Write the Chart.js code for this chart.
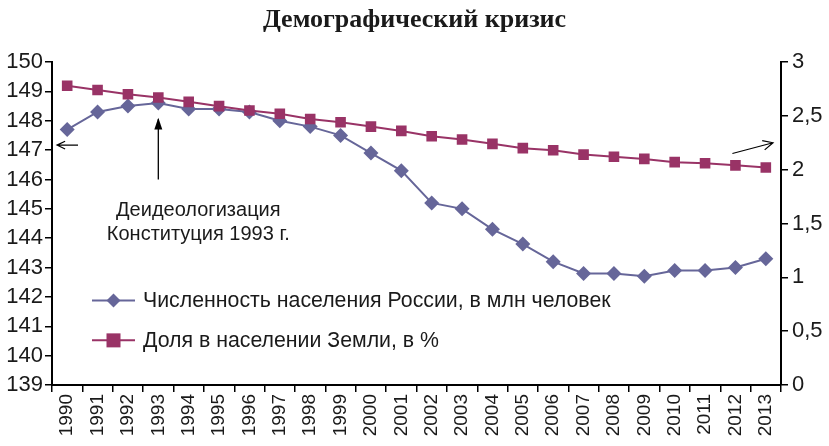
<!DOCTYPE html>
<html lang="ru">
<head>
    <meta charset="UTF-8">
    <script src="https://cdn.jsdelivr.net/npm/chart.js"></script>
    <title>Демографический кризис</title>
    <style>
        html, body { margin: 0; padding: 0; background: #fff; }
        #wrap { width: 829px; height: 446px; position: relative; }
    </style>
</head>
<body>
<div id="wrap"><canvas id="myChart" width="829" height="446"></canvas></div>
<script>
// данные
var years = ['1990', '1991', '1992', '1993', '1994', '1995', '1996', '1997', '1998', '1999', '2000', '2001',
    '2002', '2003', '2004', '2005', '2006', '2007', '2008', '2009', '2010', '2011', '2012', '2013'];
var population = [147.7, 148.3, 148.5, 148.6, 148.4, 148.4, 148.3, 148.0, 147.8, 147.5, 146.9, 146.3,
    145.2, 145.0, 144.3, 143.8, 143.2, 142.8, 142.8, 142.7, 142.9, 142.9, 143.0, 143.3];
var worldShare = [2.78, 2.74, 2.70, 2.67, 2.63, 2.59, 2.55, 2.52, 2.47, 2.44, 2.40, 2.36,
    2.31, 2.28, 2.24, 2.20, 2.18, 2.14, 2.12, 2.10, 2.07, 2.06, 2.04, 2.02];
var seriesNames = ['Численность населения России, в млн человек', 'Доля в населении Земли, в %'];
var noteLines = ['Деидеологизация', 'Конституция 1993 г.'];
var chartTitle = 'Демографический кризис';

var blue = '#666699';
var plum = '#993366';
var font = '"Liberation Sans", Arial, sans-serif';

function arrow(ctx, x1, y1, x2, y2, head) {
    var a = Math.atan2(y2 - y1, x2 - x1);
    ctx.beginPath();
    ctx.moveTo(x1, y1);
    ctx.lineTo(x2, y2);
    ctx.moveTo(x2 - head * Math.cos(a - 0.45), y2 - head * Math.sin(a - 0.45));
    ctx.lineTo(x2, y2);
    ctx.lineTo(x2 - head * Math.cos(a + 0.45), y2 - head * Math.sin(a + 0.45));
    ctx.stroke();
}

var extras = {
    id: 'extras',
    afterDatasetsDraw: function (chart) {
        var ctx = chart.ctx;
        var x = chart.scales.x, y = chart.scales.y, y2 = chart.scales.y2;
        var area = chart.chartArea;
        ctx.save();
        ctx.strokeStyle = '#000';
        ctx.fillStyle = '#000';
        ctx.lineWidth = 1.3;

        // стрелка к 1993
        var xa = x.getPixelForValue(3);
        ctx.beginPath();
        ctx.moveTo(xa, y.getPixelForValue(146.0));
        ctx.lineTo(xa, y.getPixelForValue(148.05));
        ctx.stroke();
        ctx.beginPath();
        ctx.moveTo(xa, y.getPixelForValue(148.1));
        ctx.lineTo(xa - 4, y.getPixelForValue(147.7));
        ctx.lineTo(xa + 4, y.getPixelForValue(147.7));
        ctx.closePath();
        ctx.fill();

        ctx.font = '20px ' + font;
        ctx.textAlign = 'center';
        ctx.textBaseline = 'middle';
        ctx.fillStyle = '#1a1a1a';
        var xc = xa + 40;
        ctx.fillText(noteLines[0], xc, y.getPixelForValue(144.95));
        ctx.fillText(noteLines[1], xc, y.getPixelForValue(144.13));

        // стрелки к осям
        ctx.lineWidth = 1.2;
        var ya = y.getPixelForValue(147.17);
        arrow(ctx, area.left + 26, ya, area.left + 5, ya, 9);
        arrow(ctx, x.getPixelForValue(21.9), y2.getPixelForValue(2.15), area.right - 8, y2.getPixelForValue(2.25), 11);

        // легенда
        var rows = [{ v: 141.88, c: blue, s: 'rectRot' }, { v: 140.52, c: plum, s: 'rect' }];
        ctx.font = '21.3px ' + font;
        ctx.textAlign = 'left';
        for (var i = 0; i < rows.length; i++) {
            var ly = y.getPixelForValue(rows[i].v);
            var lx1 = area.left + 40, lx2 = area.left + 83;
            ctx.strokeStyle = rows[i].c;
            ctx.lineWidth = 2;
            ctx.beginPath();
            ctx.moveTo(lx1, ly);
            ctx.lineTo(lx2, ly);
            ctx.stroke();
            ctx.fillStyle = rows[i].c;
            if (rows[i].s === 'rect') {
                ctx.fillRect((lx1 + lx2) / 2 - 7, ly - 7, 14, 14);
            } else {
                var cx = (lx1 + lx2) / 2;
                ctx.beginPath();
                ctx.moveTo(cx, ly - 7);
                ctx.lineTo(cx + 7, ly);
                ctx.lineTo(cx, ly + 7);
                ctx.lineTo(cx - 7, ly);
                ctx.closePath();
                ctx.fill();
            }
            ctx.fillStyle = '#1a1a1a';
            ctx.fillText(seriesNames[i], area.left + 91, ly + 1);
        }
        ctx.restore();
    }
};

var ctx = document.getElementById('myChart').getContext('2d');
var myChart = new Chart(ctx, {
    type: 'line',
    data: {
        labels: years,
        datasets: [
            {
                label: seriesNames[0],
                data: population,
                yAxisID: 'y',
                borderColor: blue,
                backgroundColor: blue,
                borderWidth: 2,
                pointStyle: 'rectRot',
                pointRadius: 7.5,
                pointBorderWidth: 0,
                tension: 0,
                order: 2
            },
            {
                label: seriesNames[1],
                data: worldShare,
                yAxisID: 'y2',
                borderColor: plum,
                backgroundColor: plum,
                borderWidth: 2,
                pointStyle: 'rect',
                pointRadius: 7.5,
                pointBorderWidth: 0,
                tension: 0,
                order: 1
            }
        ]
    },
    plugins: [extras],
    options: {
        responsive: false,
        maintainAspectRatio: false,
        animation: false,
        devicePixelRatio: 1,
        layout: { padding: 0 },
        plugins: {
            legend: { display: false },
            tooltip: { enabled: false },
            title: {
                display: true,
                text: chartTitle,
                color: '#1a1a1a',
                font: { family: '"Liberation Serif", "DejaVu Serif", serif', size: 26, weight: 'bold' },
                padding: { top: 5, bottom: 25.8 }
            }
        },
        scales: {
            x: {
                offset: true,
                grid: { offset: true, drawOnChartArea: false, tickLength: 7, color: '#000', lineWidth: 1.5 },
                border: { color: '#000', width: 2 },
                ticks: { minRotation: 90, maxRotation: 90, autoSkip: false, color: '#1a1a1a', padding: 2,
                    font: { family: font, size: 19 } },
                afterFit: function (s) { s.height = 61; }
            },
            y: {
                position: 'left',
                min: 139,
                max: 150,
                ticks: { stepSize: 1, autoSkip: false, color: '#1a1a1a', padding: 2, font: { family: font, size: 22 } },
                grid: { drawOnChartArea: false, tickLength: 7, color: '#000', lineWidth: 1.5 },
                border: { color: '#000', width: 2 },
                afterFit: function (s) { s.width = 52; }
            },
            y2: {
                position: 'right',
                min: 0,
                max: 3,
                ticks: {
                    stepSize: 0.5, autoSkip: false, color: '#1a1a1a', padding: 4, font: { family: font, size: 22 },
                    callback: function (v) { return String(v).replace('.', ','); }
                },
                grid: { drawOnChartArea: false, tickLength: 7, color: '#000', lineWidth: 1.5 },
                border: { color: '#000', width: 2 },
                afterFit: function (s) { s.width = 48; }
            }
        }
    }
});
</script>
</body>
</html>
